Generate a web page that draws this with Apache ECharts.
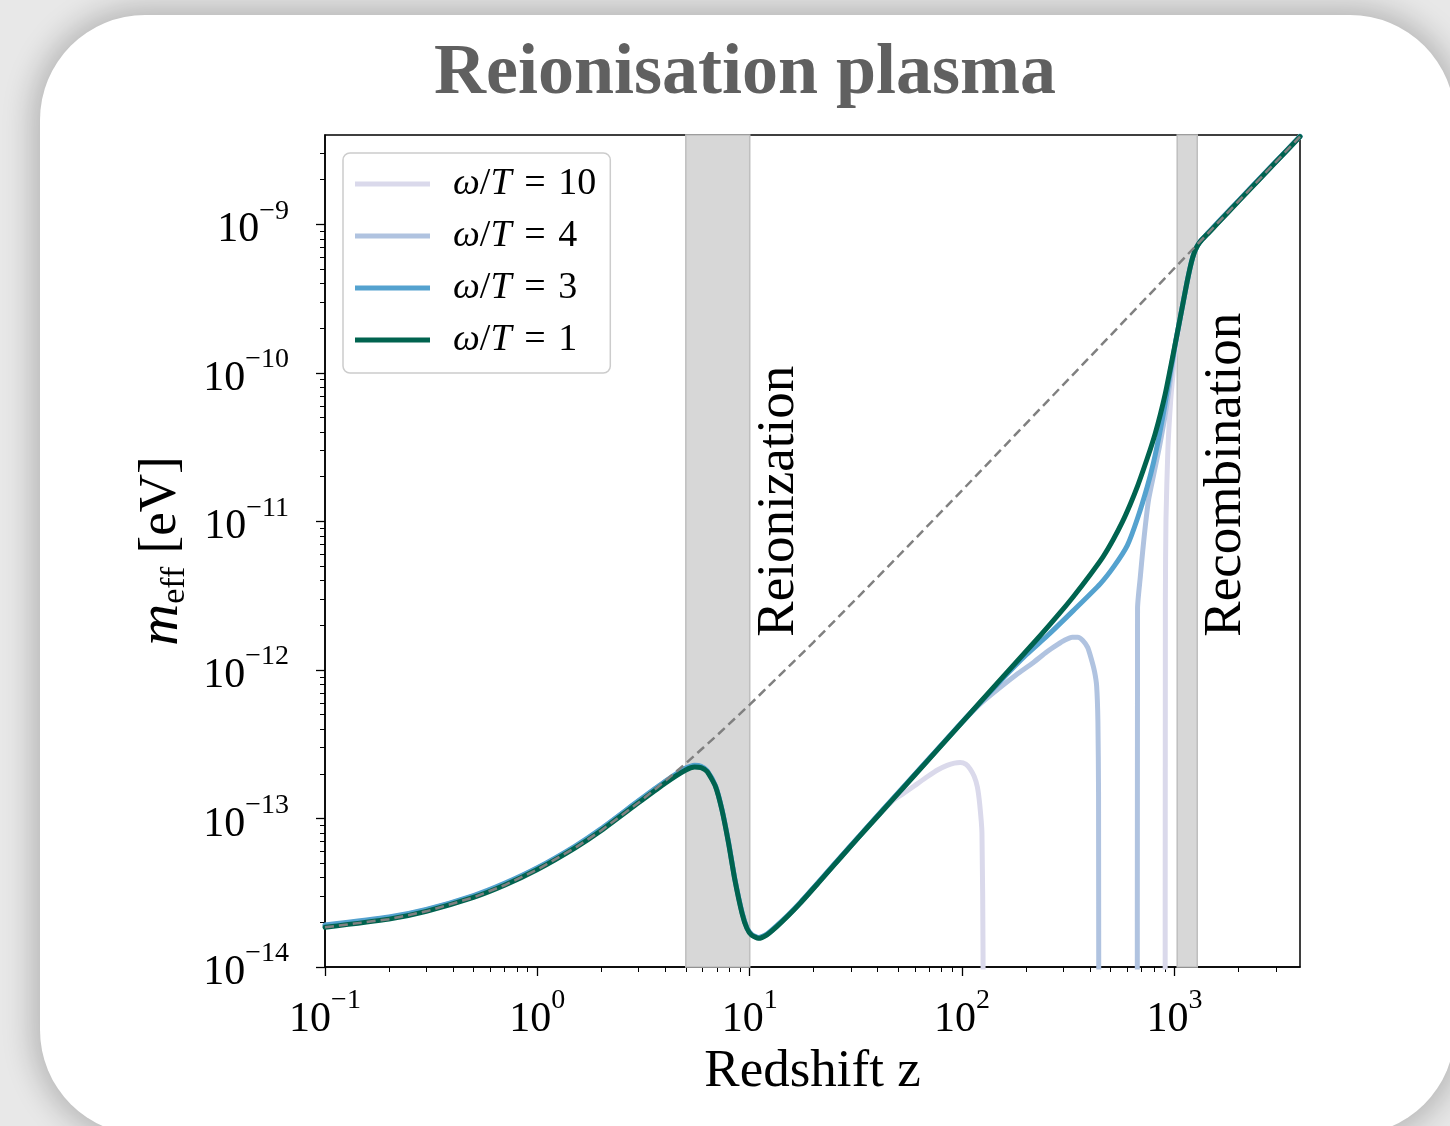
<!DOCTYPE html>
<html>
<head>
<meta charset="utf-8">
<script src="https://cdn.jsdelivr.net/npm/echarts@6/dist/echarts.min.js"></script>
<style>
  html, body { margin: 0; padding: 0; width: 1450px; height: 1126px; overflow: hidden; background: #e8e8e8; }
  #card { position: absolute; left: 40px; top: 15px; width: 1415px; height: 1120px; background: #ffffff;
          border-radius: 105px; box-shadow: 0 0 30px 8px rgba(0,0,0,0.22); }
  #chart { position: absolute; left: 0; top: 0; width: 1450px; height: 1126px; }
</style>
</head>
<body>
<div id="card"></div>
<div id="chart"></div>
<script>
// Effective photon mass in the reionisation plasma, m_eff [eV] versus redshift z

// Reference scaling of the plasma mass (dashed line)
const zRef = [0.1, 0.2, 0.3, 0.5, 0.7, 1, 1.5, 2, 3, 4, 5, 7, 10, 20, 50, 100, 200, 500, 1000, 2000, 3900];
const mRef = [1.85e-14, 2.10e-14, 2.37e-14, 2.94e-14, 3.55e-14, 4.53e-14, 6.32e-14, 8.31e-14, 1.28e-13, 1.79e-13,
              2.35e-13, 3.62e-13, 5.84e-13, 1.54e-12, 5.83e-12, 1.62e-11, 4.56e-11, 1.79e-10, 5.07e-10, 1.43e-9, 3.90e-9];

// Shared low-redshift branch (z <= 13.4), identical for all frequencies within line width
const zLow = [0.1, 0.2, 0.3, 0.5, 0.7, 1, 1.5, 2, 3, 4, 5, 5.5, 5.9, 6.3, 6.9, 7.4, 7.95, 8.5, 9.2, 9.7, 10.2, 11, 12, 13.4];

// omega/T = 1
const z1 = zLow.concat([15.2, 17.3, 21, 24.8, 29.7, 36, 47.4, 60, 75, 100, 150, 233, 290, 333, 401, 460, 515, 570, 620, 670,
            713, 769, 810, 857, 905, 955, 1009, 1055, 1104, 1145, 1186, 1220, 1255, 1290, 1340, 1450, 1600, 2000, 3000, 3900]);
const m1 = [1.85e-14, 2.10e-14, 2.37e-14, 2.94e-14, 3.55e-14, 4.53e-14, 6.32e-14, 8.31e-14, 1.28e-13, 1.73e-13, 2.12e-13,
            2.22e-13, 2.20e-13, 2.07e-13, 1.64e-13, 1.14e-13, 6.8e-14, 3.9e-14, 2.3e-14, 1.82e-14, 1.64e-14, 1.56e-14,
            1.64e-14, 1.87e-14,
            2.22e-14, 2.69e-14, 3.67e-14, 4.81e-14, 6.44e-14, 8.76e-14, 1.355e-13, 1.97e-13, 2.81e-13, 4.44e-13, 8.47e-13,
            1.70e-12, 2.44e-12, 3.10e-12, 4.38e-12, 5.75e-12, 7.55e-12, 1.00e-11, 1.31e-11, 1.73e-11, 2.22e-11, 3.05e-11,
            3.87e-11, 5.22e-11, 7.24e-11, 1.06e-10, 1.58e-10, 2.20e-10, 3.10e-10, 4.06e-10, 5.15e-10, 6.03e-10, 6.75e-10,
            7.29e-10, 7.82e-10, 8.8e-10, 1.02e-9, 1.43e-9, 2.63e-9, 3.90e-9];

// omega/T = 3
const z3 = zLow.concat([15.2, 17.3, 21, 24.8, 29.7, 36, 47.4, 60, 75, 100, 150, 200, 252, 333, 447, 520, 600, 670, 745, 797,
            851, 900, 955, 987, 1009, 1055, 1104, 1145, 1186, 1220, 1255, 1290, 1340, 1450, 1600, 2000, 3000, 3900]);
const m3 = [1.92e-14, 2.17e-14, 2.44e-14, 3.03e-14, 3.66e-14, 4.66e-14, 6.5e-14, 8.55e-14, 1.32e-13, 1.78e-13, 2.19e-13,
            2.28e-13, 2.25e-13, 2.10e-13, 1.66e-13, 1.15e-13, 6.9e-14, 3.95e-14, 2.33e-14, 1.84e-14, 1.66e-14, 1.58e-14,
            1.66e-14, 1.90e-14,
            2.25e-14, 2.72e-14, 3.71e-14, 4.86e-14, 6.5e-14, 8.85e-14, 1.37e-13, 1.99e-13, 2.83e-13, 4.46e-13, 8.3e-13,
            1.26e-12, 1.70e-12, 2.5e-12, 3.8e-12, 5.0e-12, 6.9e-12, 1.05e-11, 1.72e-11, 2.5e-11, 3.9e-11, 6.0e-11, 1.01e-10,
            1.30e-10, 1.58e-10, 2.20e-10, 3.10e-10, 4.06e-10, 5.15e-10, 6.03e-10, 6.75e-10, 7.29e-10, 7.86e-10, 8.85e-10,
            1.03e-9, 1.44e-9, 2.64e-9, 3.91e-9];

// omega/T = 4 (null marks the redshift range with no solution)
const z4 = zLow.concat([15.2, 17.3, 21, 24.8, 29.7, 36, 47.4, 60, 75, 100, 120, 140, 180, 216, 250, 281, 305, 330, 350, 370,
            390, 405, 420, 430, 436, 439, 441, 550, 668, 670, 690, 710, 730, 755, 800, 850, 900, 940, 975, 1009, 1055, 1104,
            1145, 1186, 1220, 1255, 1290, 1340, 1450, 1600, 2000, 3000, 3900]);
const m4 = [1.90e-14, 2.15e-14, 2.42e-14, 3.0e-14, 3.62e-14, 4.62e-14, 6.45e-14, 8.5e-14, 1.31e-13, 1.77e-13, 2.17e-13,
            2.26e-13, 2.23e-13, 2.09e-13, 1.65e-13, 1.15e-13, 6.85e-14, 3.92e-14, 2.32e-14, 1.83e-14, 1.65e-14, 1.57e-14,
            1.65e-14, 1.88e-14,
            2.23e-14, 2.70e-14, 3.69e-14, 4.83e-14, 6.47e-14, 8.8e-14, 1.36e-13, 1.98e-13, 2.82e-13, 4.44e-13, 5.8e-13,
            7.0e-13, 9.3e-13, 1.12e-12, 1.32e-12, 1.48e-12, 1.59e-12, 1.66e-12, 1.66e-12, 1.58e-12, 1.42e-12, 1.20e-12,
            9.8e-13, 7.8e-13, 4.5e-13, 1.5e-13, 1e-16, null, 1e-16, 2.6e-12, 4.2e-12, 6.5e-12, 9.5e-12, 1.4e-11, 2.1e-11,
            3.2e-11, 5.0e-11, 7.5e-11, 1.1e-10, 1.55e-10, 2.20e-10, 3.10e-10, 4.06e-10, 5.15e-10, 6.03e-10, 6.75e-10,
            7.29e-10, 7.86e-10, 8.85e-10, 1.03e-9, 1.44e-9, 2.64e-9, 3.91e-9];

// omega/T = 10 (null marks the redshift range with no solution)
const z10 = zLow.concat([15.2, 17.3, 21, 24.8, 29.7, 36, 47.4, 52.8, 60, 68.5, 77, 85, 92, 98, 104, 109, 114, 118, 121, 124,
             125.5, 126, 500, 903, 906, 912, 931, 960, 985, 1009, 1040, 1070, 1104, 1145, 1186, 1220, 1255, 1290, 1340,
             1450, 1600, 2000, 3000, 3900]);
const m10 = [1.90e-14, 2.15e-14, 2.42e-14, 3.0e-14, 3.62e-14, 4.62e-14, 6.45e-14, 8.5e-14, 1.31e-13, 1.77e-13, 2.17e-13,
             2.26e-13, 2.23e-13, 2.09e-13, 1.65e-13, 1.15e-13, 6.85e-14, 3.92e-14, 2.32e-14, 1.83e-14, 1.65e-14, 1.57e-14,
             1.65e-14, 1.88e-14,
             2.23e-14, 2.70e-14, 3.69e-14, 4.83e-14, 6.47e-14, 8.8e-14, 1.33e-13, 1.47e-13, 1.67e-13, 1.91e-13, 2.13e-13,
             2.28e-13, 2.36e-13, 2.38e-13, 2.32e-13, 2.16e-13, 1.92e-13, 1.63e-13, 1.25e-13, 8.0e-14, 1.2e-14, 1e-16, null,
             1e-16, 3e-12, 1.03e-11, 3.05e-11, 6.6e-11, 1.0e-10, 1.4e-10, 1.9e-10, 2.4e-10, 3.10e-10, 4.06e-10, 5.15e-10,
             6.03e-10, 6.75e-10, 7.29e-10, 7.86e-10, 8.85e-10, 1.03e-9, 1.44e-9, 2.64e-9, 3.91e-9];

// Shaded epochs (redshift ranges)
const bandReion = [5, 10];
const bandRecomb = [1030, 1280];

// Axis ticks
const xMajor = [0.1, 1, 10, 100, 1000];
const yMajor = [1e-14, 1e-13, 1e-12, 1e-11, 1e-10, 1e-9];
const minorSteps = [2, 3, 4, 5, 6, 7, 8, 9];
const xMinor = [], yMinor = [];
xMajor.forEach(d => minorSteps.forEach(s => { const v = +(s * d).toPrecision(3); if (v < 3900) xMinor.push(v); }));
yMajor.forEach(d => minorSteps.forEach(s => { const v = +(s * d).toPrecision(3); if (v < 4e-9) yMinor.push(v); }));

const names = ['ω/T = 10', 'ω/T = 4', 'ω/T = 3', 'ω/T = 1'];
const colors = ['#dad9eb', '#b0c3e0', '#54a2cf', '#00634f'];

const FONT = '"Liberation Serif", "Times New Roman", serif';
const pairs = (zs, ms) => zs.map((z, i) => [z, ms[i] === null ? '-' : ms[i]]);

function powLabel(v) {
  const e = Math.round(Math.log10(v));
  const s = e < 0 ? '\u2212' + (-e) : String(e);
  return '{b|10}{s|' + s + '}';
}
const powRich = {
  b: { fontFamily: FONT, fontSize: 42, lineHeight: 54, verticalAlign: 'bottom', color: '#000' },
  s: { fontFamily: FONT, fontSize: 28, lineHeight: 28, verticalAlign: 'top', color: '#000' }
};

const chart = echarts.init(document.getElementById('chart'), null, { renderer: 'canvas' });

const lineSeries = (i, zs, ms) => ({
  type: 'line', name: names[i], data: pairs(zs, ms), symbol: 'none', showSymbol: false,
  connectNulls: false, clip: true, z: 2, smooth: 0.2,
  lineStyle: { color: colors[i], width: 5, cap: 'round', join: 'round' },
  itemStyle: { color: colors[i] }
});

const option = {
  animation: false,
  grid: { left: 325, top: 135, width: 975, height: 832, show: true, borderColor: '#000', borderWidth: 1.5,
          backgroundColor: 'transparent', outerBoundsMode: 'none' },
  xAxis: [{
    type: 'log', logBase: 10, min: 0.1, max: 3900, gridIndex: 0,
    name: 'Redshift z', nameLocation: 'middle', nameGap: 67,
    nameTextStyle: { fontFamily: FONT, fontSize: 53, color: '#000' },
    axisLine: { show: true, lineStyle: { color: '#000', width: 1.5 } },
    axisTick: { show: true, customValues: xMajor, length: 9, lineStyle: { color: '#000', width: 1.3 } },
    axisLabel: { show: true, customValues: xMajor, margin: 20, formatter: powLabel, rich: powRich },
    splitLine: { show: false }, minorTick: { show: false }
  }, {
    type: 'log', logBase: 10, min: 0.1, max: 3900, gridIndex: 0, position: 'bottom', offset: 0,
    axisLine: { show: false },
    axisTick: { show: true, customValues: xMinor, length: 5, lineStyle: { color: '#000', width: 1 } },
    axisLabel: { show: false }, splitLine: { show: false }
  }],
  yAxis: [{
    type: 'log', logBase: 10, min: 1e-14, max: 4e-9, gridIndex: 0,
    name: '{m|m}{sub|eff}{n| [eV]}', nameLocation: 'middle', nameRotate: 90, nameGap: 132,
    nameTextStyle: {
      fontFamily: FONT, fontSize: 53, color: '#000',
      rich: {
        m: { fontFamily: FONT, fontSize: 58, fontStyle: 'italic', lineHeight: 62, verticalAlign: 'middle', color: '#000' },
        sub: { fontFamily: FONT, fontSize: 34, lineHeight: 36, verticalAlign: 'bottom', color: '#000' },
        n: { fontFamily: FONT, fontSize: 53, lineHeight: 62, verticalAlign: 'middle', color: '#000' }
      }
    },
    axisLine: { show: true, lineStyle: { color: '#000', width: 1.5 } },
    axisTick: { show: true, customValues: yMajor, length: 9, lineStyle: { color: '#000', width: 1.3 } },
    axisLabel: { show: true, customValues: yMajor, margin: 36, formatter: powLabel, rich: powRich },
    splitLine: { show: false }, minorTick: { show: false }
  }, {
    type: 'log', logBase: 10, min: 1e-14, max: 4e-9, gridIndex: 0, position: 'left', offset: 0,
    axisLine: { show: false },
    axisTick: { show: true, customValues: yMinor, length: 5, lineStyle: { color: '#000', width: 1 } },
    axisLabel: { show: false }, splitLine: { show: false }
  }],
  legend: {
    data: names, orient: 'vertical', left: 343, top: 153,
    icon: 'rect', itemWidth: 75, itemHeight: 5, itemGap: 14,
    padding: [12, 14, 14, 12],
    backgroundColor: '#ffffff', borderColor: '#cccccc', borderWidth: 1.5, borderRadius: 7,
    selectedMode: false,
    formatter: name => '{i|ω}{r|/}{i|T}{r|\u2004=\u2004' + name.split('= ')[1] + '}',
    textStyle: {
      fontFamily: FONT, fontSize: 38, lineHeight: 38, color: '#000', padding: [0, 0, 0, 18],
      rich: {
        i: { fontFamily: FONT, fontSize: 38, fontStyle: 'italic', color: '#000' },
        r: { fontFamily: FONT, fontSize: 38, color: '#000' }
      }
    }
  },
  series: [
    {
      type: 'line', name: 'epochs', data: [], z: 1, silent: true, symbol: 'none',
      markArea: {
        silent: true,
        itemStyle: { color: '#d7d7d7', borderColor: '#bfbfbf', borderWidth: 1.5 },
        data: [
          [{ xAxis: bandReion[0] }, { xAxis: bandReion[1] }],
          [{ xAxis: bandRecomb[0] }, { xAxis: bandRecomb[1] }]
        ]
      }
    },
    lineSeries(0, z10, m10),
    lineSeries(1, z4, m4),
    lineSeries(2, z3, m3),
    lineSeries(3, z1, m1),
    {
      type: 'line', name: 'plasma', data: pairs(zRef, mRef), symbol: 'none', showSymbol: false, z: 3,
      lineStyle: { color: '#808080', width: 2.5, type: [9, 5] }
    }
  ]
};
chart.setOption(option);

// Title and rotated epoch labels placed in data coordinates
const pReion = chart.convertToPixel({ gridIndex: 0 }, [13.75, 1.675e-12]);
const pRecomb = chart.convertToPixel({ gridIndex: 0 }, [1754, 1.675e-12]);
chart.setOption({
  graphic: [
    { type: 'text', x: 745, y: 38, silent: true,
      style: { text: 'Reionisation plasma', font: 'bold 72px ' + FONT, fill: '#606060', textAlign: 'center', textVerticalAlign: 'top' } },
    { type: 'text', x: pReion[0], y: pReion[1], rotation: Math.PI / 2, silent: true,
      style: { text: 'Reionization', font: '53px ' + FONT, fill: '#000', textAlign: 'left', textVerticalAlign: 'middle' } },
    { type: 'text', x: pRecomb[0], y: pRecomb[1], rotation: Math.PI / 2, silent: true,
      style: { text: 'Recombination', font: '53px ' + FONT, fill: '#000', textAlign: 'left', textVerticalAlign: 'middle' } }
  ]
});
</script>
</body>
</html>
